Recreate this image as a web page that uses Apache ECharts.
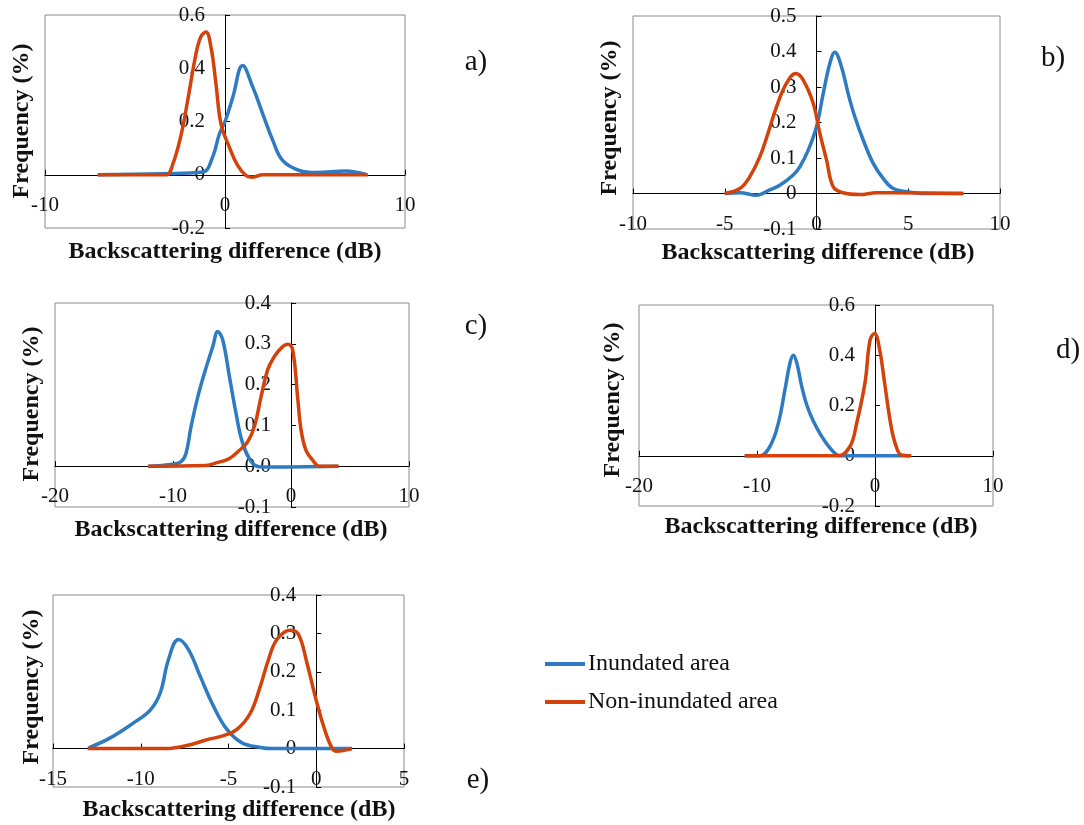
<!DOCTYPE html>
<html>
<head>
<meta charset="utf-8">
<script src="https://cdn.jsdelivr.net/npm/echarts@6/dist/echarts.min.js"></script>
<style>
  html, body { margin: 0; padding: 0; background: #fff; }
  #chart { width: 1084px; height: 825px; }
</style>
</head>
<body>
<div id="chart"></div>
<script>
// series names
const seriesNames = ['Inundated area', 'Non-inundated area'];

// panel a
const aBlueX = [-7.07, -3.46, -1.24, -0.69, -0.31, 0, 0.43, 0.98, 1.54, 2.09, 2.65, 3.2, 4.13, 5.06, 6.7, 7.83];
const aBlueY = [0, 0.004, 0.01, 0.066, 0.154, 0.2, 0.29, 0.41, 0.33, 0.23, 0.13, 0.054, 0.016, 0.008, 0.014, 0.001];
const aRedX = [-7.07, -3.28, -2.9, -2.44, -2.07, -1.61, -1.33, -1.06, -0.78, -0.5, -0.22, 0.24, 0.7, 1.17, 1.54, 2.09, 7.93];
const aRedY = [0, 0, 0.04, 0.15, 0.28, 0.455, 0.52, 0.536, 0.48, 0.34, 0.19, 0.104, 0.035, -0.003, -0.009, 0, 0];

// panel b
const bBlueX = [-5, -4.18, -3.27, -2.55, -2, -1.27, -0.91, -0.45, 0, 0.36, 0.73, 1, 1.36, 1.73, 2.09, 2.55, 3.09, 3.64, 4.18, 4.9, 6, 8];
const bBlueY = [0, 0.002, -0.005, 0.01, 0.023, 0.052, 0.075, 0.122, 0.188, 0.28, 0.367, 0.398, 0.357, 0.28, 0.216, 0.15, 0.085, 0.042, 0.014, 0.005, 0, 0];
const bRedX = [-5, -4.18, -3.64, -3.09, -2.64, -2.18, -1.64, -1.13, -0.73, -0.18, 0.18, 0.55, 0.91, 1.45, 2.36, 3.27, 4.18, 8];
const bRedY = [0, 0.014, 0.047, 0.103, 0.17, 0.244, 0.31, 0.338, 0.32, 0.254, 0.17, 0.094, 0.019, 0.002, -0.003, 0.002, 0.002, 0];

// panel c
const cBlueX = [-12.1, -10, -9.31, -8.9, -8.47, -7.9, -7.34, -6.63, -6.2, -5.79, -5.22, -4.66, -4.09, -3.25, -2.4, 4];
const cBlueY = [0, 0.005, 0.011, 0.031, 0.097, 0.17, 0.228, 0.293, 0.33, 0.31, 0.22, 0.13, 0.056, 0.007, -0.002, 0];
const cRedX = [-12.1, -7.2, -6.35, -5.22, -4.37, -3.67, -3.1, -2.54, -1.98, -1.41, -0.71, -0.28, 0.14, 0.56, 0.85, 1.27, 1.83, 2.4, 4.04];
const cRedY = [0, 0.002, 0.008, 0.019, 0.039, 0.06, 0.097, 0.17, 0.236, 0.269, 0.293, 0.299, 0.285, 0.17, 0.089, 0.039, 0.015, 0, 0];

// panel d
const dBlueX = [-11.04, -9.75, -8.9, -8.19, -7.63, -7.2, -6.92, -6.63, -6.21, -5.79, -5.22, -4.52, -3.81, -3.25, -2.9, 2.94];
const dBlueY = [0, 0, 0.037, 0.13, 0.263, 0.37, 0.4, 0.37, 0.276, 0.203, 0.137, 0.077, 0.03, 0.004, 0, 0];
const dRedX = [-11.04, -3.1, -2.12, -1.55, -0.85, -0.42, -0.03, 0.4, 0.82, 1.38, 1.8, 2.23, 3.08];
const dRedY = [0, 0, 0.037, 0.13, 0.29, 0.46, 0.487, 0.42, 0.288, 0.113, 0.036, 0.003, 0];

// panel e
const eBlueX = [-12.97, -11.74, -10.41, -9.46, -8.89, -8.42, -7.85, -7.28, -6.61, -5.85, -5.09, -4.23, -3.19, -2.5, 2.03];
const eBlueY = [0.002, 0.028, 0.067, 0.1, 0.145, 0.232, 0.284, 0.258, 0.188, 0.11, 0.05, 0.015, 0.003, 0, 0];
const eRedX = [-13.03, -8.6, -7.37, -6.23, -5.28, -4.52, -3.76, -3.19, -2.72, -2.24, -1.48, -1.01, -0.53, -0.06, 0.42, 0.89, 1.18, 1.65, 2.03];
const eRedY = [0, 0, 0.008, 0.023, 0.034, 0.05, 0.092, 0.162, 0.232, 0.284, 0.308, 0.297, 0.223, 0.136, 0.058, 0.002, -0.007, -0.004, 0];

// axis ranges per panel: [xmin, xmax, xstep, ymin, ymax, ystep]
const axisA = [-10, 10, 10, -0.2, 0.6, 0.2];
const axisB = [-10, 10, 5, -0.1, 0.5, 0.1];
const axisC = [-20, 10, 10, -0.1, 0.4, 0.1];
const axisD = [-20, 10, 10, -0.2, 0.6, 0.2];
const axisE = [-15, 5, 5, -0.1, 0.4, 0.1];

const panelLabels = ['a)', 'b)', 'c)', 'd)', 'e)'];
const xTitle = 'Backscattering difference (dB)';
const yTitle = 'Frequency (%)';

const FONT = '"Liberation Serif", "Times New Roman", serif';
const BLUE = '#2f7bc1';
const RED = '#d4420c';

// layout of the five plot boxes
const boxes = [
  {left: 45, top: 15, width: 360, height: 213},
  {left: 633, top: 16, width: 367, height: 213},
  {left: 55, top: 303, width: 354, height: 204},
  {left: 639, top: 305, width: 354, height: 201},
  {left: 53, top: 595, width: 351, height: 192}
];
const axes = [axisA, axisB, axisC, axisD, axisE];
const curves = [
  [aBlueX, aBlueY, aRedX, aRedY],
  [bBlueX, bBlueY, bRedX, bRedY],
  [cBlueX, cBlueY, cRedX, cRedY],
  [dBlueX, dBlueY, dRedX, dRedY],
  [eBlueX, eBlueY, eRedX, eRedY]
];
// where titles and panel letters go
const yTitlePos = [[22, 121], [610, 118], [32, 404], [613, 400], [32, 687]];
const xTitlePos = [[225, 252], [818, 253], [231, 530], [821, 527], [239, 810]];
const letterPos = [[476, 62], [1053, 58], [476, 326], [1068, 350], [478, 780]];

function pairs(xs, ys) {
  return xs.map((x, i) => [x, ys[i]]);
}

let grids = [], xAxes = [], yAxes = [], series = [], graphics = [];

boxes.forEach((b, i) => {
  const ax = axes[i];
  // shift the axes from the box edge to where the other axis is zero (Excel style crossing)
  const yShift = b.width * (0 - ax[0]) / (ax[1] - ax[0]);
  const xShift = b.height * (0 - ax[3]) / (ax[4] - ax[3]);
  grids.push(Object.assign({
    show: true, borderColor: '#8a8a8a', borderWidth: 1, backgroundColor: 'transparent'
  }, b));
  xAxes.push({
    type: 'value', gridIndex: i, min: ax[0], max: ax[1], interval: ax[2],
    position: 'bottom', offset: -xShift,
    axisLine: {onZero: false, lineStyle: {color: '#000', width: 1}},
    axisTick: {show: true, inside: true, length: 5, lineStyle: {color: '#000'}},
    axisLabel: {color: '#111', fontFamily: FONT, fontSize: 21, margin: 20},
    splitLine: {show: false}
  });
  yAxes.push({
    type: 'value', gridIndex: i, min: ax[3], max: ax[4], interval: ax[5],
    position: 'left', offset: -yShift,
    axisLine: {show: true, onZero: false, lineStyle: {color: '#000', width: 1}},
    axisTick: {show: true, inside: true, length: 5, lineStyle: {color: '#000'}},
    axisLabel: {
      color: '#111', fontFamily: FONT, fontSize: 21, margin: 20,
      formatter: i === 2 ? (v => v.toFixed(1)) : null
    },
    splitLine: {show: false}
  });
  const c = curves[i];
  series.push({
    name: seriesNames[0], type: 'line', xAxisIndex: i, yAxisIndex: i,
    data: pairs(c[0], c[1]), smooth: 0.4, showSymbol: false,
    lineStyle: {color: BLUE, width: 3.5}, itemStyle: {color: BLUE}
  });
  series.push({
    name: seriesNames[1], type: 'line', xAxisIndex: i, yAxisIndex: i,
    data: pairs(c[2], c[3]), smooth: 0.4, showSymbol: false,
    lineStyle: {color: RED, width: 3.5}, itemStyle: {color: RED}
  });

  graphics.push({
    type: 'text', x: yTitlePos[i][0], y: yTitlePos[i][1], rotation: Math.PI / 2,
    style: {text: yTitle, font: 'bold 24px ' + FONT, fill: '#111', align: 'center', verticalAlign: 'middle'}
  });
  graphics.push({
    type: 'text', x: xTitlePos[i][0], y: xTitlePos[i][1],
    style: {text: xTitle, font: 'bold 24px ' + FONT, fill: '#111', align: 'center', verticalAlign: 'middle'}
  });
  graphics.push({
    type: 'text', x: letterPos[i][0], y: letterPos[i][1],
    style: {text: panelLabels[i], font: '29px ' + FONT, fill: '#111', align: 'center', verticalAlign: 'middle'}
  });
});

let chart = echarts.init(document.getElementById('chart'), null, {renderer: 'canvas'});
let option = {
  animation: false,
  backgroundColor: '#fff',
  grid: grids,
  xAxis: xAxes,
  yAxis: yAxes,
  series: series,
  legend: {
    data: seriesNames, orient: 'vertical', left: 540, top: 647,
    icon: 'rect', itemWidth: 40, itemHeight: 4, itemGap: 14,
    textStyle: {fontFamily: FONT, fontSize: 24, color: '#111', padding: [0, 0, 0, -2]}
  },
  graphic: graphics
};
option && chart.setOption(option);
</script>
</body>
</html>
